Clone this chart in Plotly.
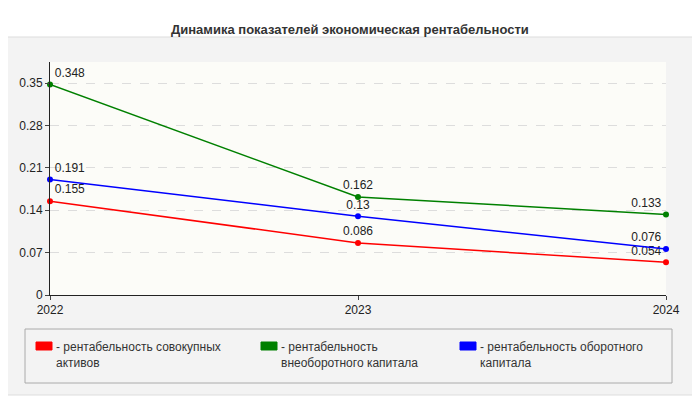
import plotly.graph_objects as go

years = ["2022", "2023", "2024"]
assets = [0.155, 0.086, 0.054]
noncurrent = [0.348, 0.162, 0.133]
working = [0.191, 0.13, 0.076]
names = ["рентабельность совокупных<br>активов",
         "рентабельность<br>внеоборотного капитала",
         "рентабельность оборотного<br>капитала"]
colors = ["#ff0000", "#008000", "#0000ff"]
yticks = [0, 0.07, 0.14, 0.21, 0.28, 0.35]

# page body adds an 8px offset, so positions below are in screenshot pixels
OFF = 8
W, H = 700, 400
L, R, T, B = 42, 42, 54, 113
pw, ph = W - L - R, H - T - B


def px(x):
    return (x - OFF - L) / pw


def py(y):
    return (H - B - (y - OFF)) / ph


fig = go.Figure()
positions = ["top right", "top center", "top left"]
for vals, c in zip([assets, noncurrent, working], colors):
    fig.add_trace(go.Scatter(
        x=[0, 1, 2], y=vals, mode="lines+markers+text",
        line=dict(color=c, width=1.5), marker=dict(color=c, size=6),
        text=[str(v) for v in vals], textposition=positions,
        textfont=dict(size=12, color="#222"), showlegend=False, cliponaxis=False))

shapes = [
    dict(type="rect", xref="paper", yref="paper", x0=px(5), x1=px(693), y0=py(395), y1=py(37),
         fillcolor="#f3f3f3", line=dict(color="#dddddd", width=1), layer="below"),
    dict(type="rect", xref="paper", yref="paper", x0=0, x1=1, y0=0, y1=1,
         fillcolor="#fcfcf8", line=dict(width=0), layer="below"),
    dict(type="rect", xref="paper", yref="paper", x0=px(25), x1=px(672), y0=py(383), y1=py(329),
         fillcolor="#f3f3f3", line=dict(color="#aaaaaa", width=1)),
]
annotations = [dict(text="<b>Динамика показателей экономическая рентабельности</b>",
                    xref="paper", yref="paper", x=px(350), y=py(20), showarrow=False,
                    font=dict(size=13, color="#333"))]
for x0, n, c in zip([36, 261, 460], names, colors):
    shapes.append(dict(type="rect", xref="paper", yref="paper", x0=px(x0), x1=px(x0 + 16),
                       y0=py(350), y1=py(342), fillcolor=c, line=dict(color=c, width=1)))
    annotations.append(dict(text="- " + n, xref="paper", yref="paper", x=px(x0 + 18), y=py(338),
                            xanchor="left", yanchor="top", align="left", showarrow=False,
                            font=dict(size=12, color="#333")))

fig.update_layout(
    width=W, height=H, margin=dict(l=L, r=R, t=T, b=B),
    paper_bgcolor="white", plot_bgcolor="rgba(0,0,0,0)",
    font=dict(family="Liberation Sans, Arial", size=12, color="#222"),
    shapes=shapes, annotations=annotations,
    xaxis=dict(range=[0, 2], tickvals=[0, 1, 2], ticktext=years, showgrid=False,
               ticks="outside", ticklen=4, showline=True, linecolor="#222", zeroline=False),
    yaxis=dict(range=[0, 0.385], tickvals=yticks, ticktext=["0", "0.07", "0.14", "0.21", "0.28", "0.35"],
               showgrid=True, gridcolor="#dddddd", griddash="dash", ticks="outside", ticklen=4,
               showline=True, linecolor="#222", zeroline=False),
)
fig.write_html("out.html")
